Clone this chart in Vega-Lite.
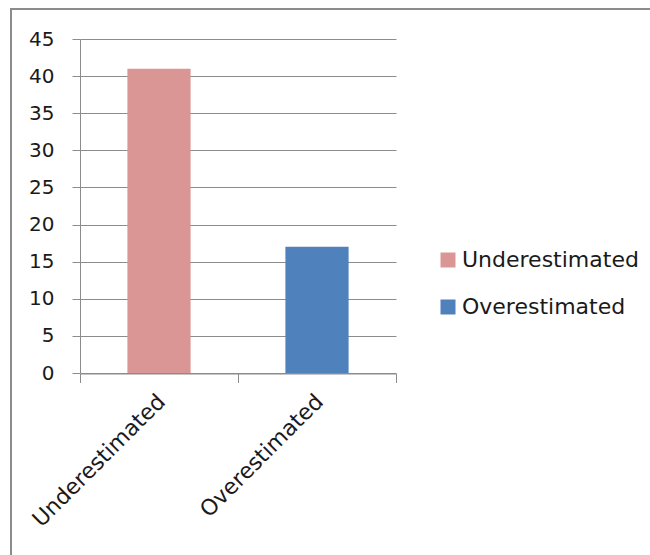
{
  "$schema": "https://vega.github.io/schema/vega-lite/v6.json",
  "autosize": "none",
  "padding": {"left": 11, "top": 9, "right": 0, "bottom": 0},
  "width": 660,
  "height": 560,
  "background": "white",
  "data": {
    "values": [
      {"category": "Underestimated", "value": 41},
      {"category": "Overestimated", "value": 17}
    ]
  },
  "mark": {"type": "bar", "width": {"band": 0.4}},
  "encoding": {
    "x": {
      "field": "category",
      "type": "nominal",
      "sort": ["Underestimated", "Overestimated"],
      "scale": {"range": [69, 385], "paddingInner": 0, "paddingOuter": 0},
      "axis": {
        "title": null,
        "offset": -195.5,
        "labelAngle": -45,
        "labelFont": "DejaVu Sans",
        "labelFontSize": 22,
        "labelColor": "#1a1a1a",
        "labelPadding": 8,
        "labelOffset": -5,
        "tickBand": "extent",
        "tickSize": 9,
        "tickColor": "#8c8c8c",
        "domainColor": "#8c8c8c",
        "grid": false
      }
    },
    "y": {
      "field": "value",
      "type": "quantitative",
      "scale": {"domain": [0, 45], "nice": false, "range": [364, 30]},
      "axis": {
        "title": null,
        "offset": -69,
        "values": [0, 5, 10, 15, 20, 25, 30, 35, 40, 45],
        "labelFont": "DejaVu Sans",
        "labelFontSize": 20,
        "labelColor": "#1a1a1a",
        "labelPadding": 18,
        "tickSize": 8,
        "tickColor": "#8c8c8c",
        "domainColor": "#8c8c8c",
        "grid": true,
        "gridColor": "#8c8c8c",
        "gridOpacity": 1
      }
    },
    "color": {
      "field": "category",
      "type": "nominal",
      "sort": ["Underestimated", "Overestimated"],
      "scale": {"domain": ["Underestimated", "Overestimated"], "range": ["#D99694", "#4F81BD"]},
      "legend": {
        "title": null,
        "orient": "none",
        "legendX": 426,
        "legendY": 240,
        "symbolType": "square",
        "symbolSize": 225,
        "symbolStrokeWidth": 0,
        "labelFont": "DejaVu Sans",
        "labelFontSize": 22,
        "labelColor": "#1a1a1a",
        "labelOffset": 3,
        "labelLimit": 0,
        "rowPadding": 25
      }
    }
  },
  "config": {
    "view": {"stroke": "#8c8c8c", "strokeWidth": 2},
    "axis": {"domainWidth": 1, "tickWidth": 1, "gridWidth": 1}
  }
}
